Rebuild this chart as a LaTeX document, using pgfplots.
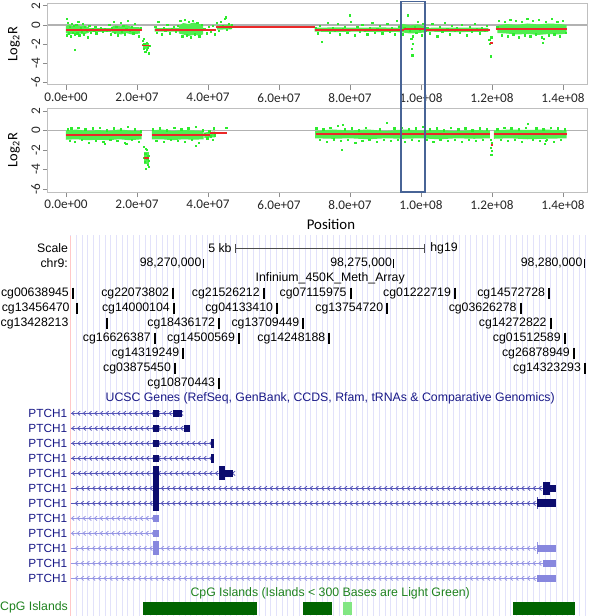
\documentclass[border=0pt]{standalone}
\usepackage{pgfplots}
\pgfplotsset{compat=1.18}
\usepackage{fontspec}
\setmainfont{Liberation Sans}
\newfontfamily\carl{Carlito}
\usetikzlibrary{decorations.markings}

\definecolor{ptgreen}{RGB}{45,235,45}
\definecolor{bandgreen}{RGB}{80,238,80}
\definecolor{segred}{RGB}{235,40,40}
\definecolor{rectblue}{RGB}{72,100,150}
\definecolor{navytext}{RGB}{25,25,135}
\definecolor{exondark}{RGB}{12,12,110}
\definecolor{linemid}{RGB}{85,85,185}
\definecolor{exonlight}{RGB}{135,135,222}
\definecolor{linelight}{RGB}{150,150,228}
\definecolor{cpgtext}{RGB}{30,130,30}
\definecolor{cpgdark}{RGB}{0,100,0}
\definecolor{cpglight}{RGB}{130,230,130}
\definecolor{gridlav}{RGB}{226,226,250}
\definecolor{pinkline}{RGB}{255,200,200}

\tikzset{
  bt/.style={font=\fontsize{6.15}{7}\selectfont, inner sep=0pt},
  chev/.style={postaction={decorate}, decoration={markings,
    mark=between positions 0.01 and 1 step 2.86pt with {\draw[line width=0.4pt] (1.3pt,1.1pt) -- (0pt,0pt) -- (1.3pt,-1.1pt);}}}
}

\pgfplotsset{
  cnbase/.style={
    scale only axis, width=269.5pt,
    xmin=-5.07, xmax=146.76, ymin=-6.3, ymax=2.3,
  },
  cnplot/.style={
    cnbase,
    clip marker paths=true,
    axis line style={draw=black!25, line width=0.5pt},
    tick align=outside, tick pos=left, major tick length=2.5pt,
    tick style={black!45, line width=0.4pt},
    xtick={0,20,40,60,80,100,120,140},
    xticklabels={0.0e+00,2.0e+07,4.0e+07,6.0e+07,8.0e+07,1.0e+08,1.2e+08,1.4e+08},
    ytick={-6,-4,-2,0,2}, yticklabels={-6,-4,-2,0,2},
    tick label style={font=\carl\fontsize{6.6}{7.5}\selectfont, black!85},
    yticklabel style={rotate=90, anchor=south, inner sep=1.2pt},
    xticklabel style={inner sep=1.5pt},
    ylabel={Log\textsubscript{2}R},
    ylabel style={font=\carl\fontsize{7.2}{8}\selectfont, at={(axis description cs:-0.063,0.5)}, anchor=center},
  },
  dots/.style={only marks, mark=square*, mark size=0.32pt, color=ptgreen},
  band/.style={fill=bandgreen, draw=none},
  seg/.style={segred, line width=0.9pt},
}

\newcommand{\probe}[3]{\addplot[black, line width=1.1pt] coordinates {(#1,#2) (#1,#3)};}
\newcommand{\exon}[5]{\addplot[fill=#5, draw=none] coordinates {(#1,#3) (#2,#3) (#2,#4) (#1,#4)};}
\newcommand{\gline}[4]{\addplot[#4, line width=0.5pt, chev] coordinates {(#1,#3) (#2,#3)};}

\begin{document}
\begin{tikzpicture}
\path[use as bounding box] (0pt,0pt) rectangle (300pt,-308pt);

% ---------- tumour 1 ----------
\begin{axis}[cnplot, at={(24pt,-1.5pt)}, anchor=north west, height=41pt]
\addplot[black!30, line width=0.7pt] coordinates {(-5.07,0) (146.76,0)};
% dense clouds
\addplot[band] coordinates {(0,-0.1)(1,0.05)(2,-0.15)(3,0.05)(4,-0.1)(5,-0.05)(6.5,-0.25)(6.5,-0.8)(5,-1.0)(4,-0.9)(3,-1.05)(2,-0.9)(1,-1.0)(0,-0.85)};
\addplot[band] coordinates {(6.5,-0.35)(12.8,-0.35)(12.8,-0.7)(6.5,-0.7)};
\addplot[band] coordinates {(12.8,-0.2)(14,-0.05)(15.5,-0.15)(17,0.0)(18.5,-0.2)(20.8,-0.25)(20.8,-0.9)(18.5,-1.0)(17,-0.85)(15.5,-1.0)(14,-0.9)(12.8,-0.8)};
\addplot[band] coordinates {(21.7,-1.9)(23.5,-1.9)(23.5,-2.5)(21.7,-2.5)};
\addplot[band] coordinates {(25,-0.35)(31.8,-0.3)(31.8,-0.7)(25,-0.7)};
\addplot[band] coordinates {(31.8,-0.1)(33,0.2)(34.5,0.1)(36,0.25)(37.5,0.1)(38.6,0.0)(38.6,-1.0)(37.5,-1.1)(36,-1.05)(34.5,-1.15)(33,-1.0)(31.8,-0.9)};
\addplot[band] coordinates {(42.5,-0.05)(46.8,0.05)(46.8,-0.45)(42.5,-0.5)};
\addplot[band] coordinates {(70,-0.3)(76,-0.25)(82,-0.3)(88,-0.25)(93.5,-0.3)(93.5,-0.72)(88,-0.75)(82,-0.7)(76,-0.75)(70,-0.7)};
\addplot[band] coordinates {(93.5,-0.1)(95,0.1)(97,-0.05)(99,0.05)(101,-0.15)(101,-0.8)(99,-0.85)(97,-0.9)(95,-0.8)(93.5,-0.75)};
\addplot[band] coordinates {(101,-0.3)(110,-0.28)(119,-0.3)(119,-0.72)(110,-0.75)(101,-0.7)};
\addplot[band] coordinates {(121.5,-0.1)(124,0.1)(127,0.0)(130,0.15)(133,0.05)(136,0.15)(139,0.1)(141,0.0)(141,-0.9)(139,-1.0)(136,-0.95)(133,-1.05)(130,-0.95)(127,-1.0)(124,-0.9)(121.5,-0.85)};
% single probes
\addplot[dots] table {
x y
0.2 0.6
0.3 -1.1
0.5 0.2
0.8 -0.9
1.1 -0.2
1.4 -1.2
1.7 0.1
2.0 -0.8
2.3 -0.1
2.5 -2.6
2.6 -1.0
2.9 0.0
3.2 -0.9
3.5 0.3
3.8 -1.1
4.1 -0.3
4.4 -0.7
4.7 0.1
5.0 -1.0
5.4 -0.2
5.8 -0.6
6.2 -1.3
6.6 -0.1
7.0 -0.8
7.5 -0.4
8.0 -0.6
8.3 -0.2
8.6 -0.9
9.2 -0.5
9.8 -0.3
10.4 -0.7
11.0 -0.4
11.6 -0.6
12.2 0.0
12.6 -1.0
13.0 -0.3
13.4 0.3
13.8 -0.8
14.2 -0.2
14.6 -1.1
15.0 -0.5
15.4 0.2
15.8 -0.7
16.2 -0.1
16.6 -1.0
17.0 -0.4
17.5 0.4
18.0 -0.6
18.5 -0.2
19.0 -0.9
19.5 0.1
20.0 -0.5
20.5 -1.2
21.0 -0.3
21.6 -1.7
21.8 -2.1
21.9 -2.5
22.0 -1.5
22.1 -2.0
22.4 -2.8
22.7 -1.9
22.8 -2.6
23.0 -2.4
23.3 -3.0
23.5 -2.2
25.2 -0.2
25.6 -0.8
26.0 0.3
26.5 -0.5
27.0 -1.0
27.5 -0.3
28.0 -0.6
28.6 0.0
29.2 -0.9
29.8 -0.4
30.4 -0.2
31.0 -0.7
31.5 -0.1
32.2 0.4
32.8 -1.2
33.4 0.5
34.0 -1.1
34.6 0.3
35.2 -1.3
35.8 0.4
36.4 -1.0
37.0 0.2
37.6 -1.2
38.2 0.0
39.0 -0.4
39.6 -0.9
40.2 -0.2
40.8 -0.7
41.4 -0.1
42.0 -1.0
42.5 0.2
43.0 -0.6
43.6 0.3
44.2 -0.1
44.8 0.6
45.0 0.8
45.3 -0.5
45.8 0.1
46.3 -0.3
46.8 0.0
70.3 -0.3
71.0 -0.9
71.6 -0.1
72.0 -1.8
73.0 -0.5
73.7 0.2
74.4 -0.8
75.1 -0.3
75.8 -0.6
76.5 0.1
77.2 -1.0
77.9 -0.4
78.6 -0.2
79.3 -0.8
80.0 1.0
80.3 0.3
80.7 -0.5
81.4 -1.1
82.1 -0.2
82.8 -0.7
83.5 0.0
84.2 -0.6
84.9 -1.0
85.6 -0.3
86.3 0.2
87.0 -0.8
87.7 -0.4
88.4 -0.1
89.1 -0.9
89.8 -0.5
90.5 0.1
91.2 -0.7
91.9 -0.3
92.6 -1.0
93.3 0.4
93.8 -0.2
94.3 0.6
94.8 -1.0
95.3 -0.3
96.3 1.0
96.8 -0.6
97.3 -1.5
97.5 -2.5
97.6 -3.2
97.7 -2.0
97.8 -1.2
98.2 -0.2
98.7 -0.8
99.2 0.3
99.7 -0.5
100.2 -1.1
100.7 0.1
101.2 -0.6
101.8 -0.3
102.5 -0.9
103.2 0.1
103.9 -0.5
104.6 -1.2
105.3 -0.2
106.0 -0.7
106.7 0.2
107.4 -0.4
108.1 -1.0
108.8 -0.1
109.5 -0.6
110.2 -0.3
110.9 -0.8
111.6 0.0
112.3 -0.5
113.0 -1.1
113.7 -0.2
114.4 -0.7
115.1 0.1
115.8 -0.4
116.5 -0.9
117.2 -0.3
117.9 -0.6
118.6 -0.1
119.3 -1.6
119.5 -2.0
119.6 -3.3
119.8 -1.3
121.5 -0.2
122.0 0.4
122.8 -1.1
123.6 0.3
124.4 -1.2
125.2 0.5
126.0 -1.0
126.8 0.4
127.6 -1.3
128.4 0.3
129.2 -1.1
130.0 0.6
130.8 -1.2
131.6 0.4
132.4 -1.0
133.2 0.5
134.0 -1.3
134.4 -1.9
134.6 -1.5
135.2 0.3
136.0 -1.1
136.8 0.6
137.6 -1.0
138.4 0.3
139.2 -1.2
140.0 0.4
140.8 -0.8
};
\coordinate (rectA) at (axis cs:94.4,2.46);
\end{axis}
% segment overlay for tumour 1
\begin{axis}[cnbase, hide axis, at={(24pt,-1.5pt)}, anchor=north west, height=41pt]
\addplot[seg] coordinates {(0,-0.5) (21.5,-0.5)};
\addplot[seg] coordinates {(21.4,-2.15) (23.6,-2.15)};
\addplot[seg] coordinates {(25.0,-0.5) (38.6,-0.5)};
\addplot[seg] coordinates {(38.6,-0.55) (42.2,-0.55)};
\addplot[seg] coordinates {(42.2,-0.25) (70.0,-0.25)};
\addplot[seg] coordinates {(70.0,-0.5) (95.3,-0.5)};
\addplot[seg] coordinates {(95.3,-0.4) (101.0,-0.4)};
\addplot[seg] coordinates {(101.0,-0.5) (119.3,-0.5)};
\addplot[seg] coordinates {(119.4,-1.9) (120.2,-1.9)};
\addplot[seg] coordinates {(121.0,-0.45) (141.0,-0.45)};
\end{axis}

% ---------- tumour 2 ----------
\begin{axis}[cnplot, at={(24pt,-54pt)}, anchor=north west, height=42pt,
  xlabel={Position},
  xlabel style={font=\carl\fontsize{7.4}{8}\selectfont, at={(axis description cs:0.525,-0.38)}, anchor=center}]
\addplot[black!30, line width=0.7pt] coordinates {(-5.07,0) (146.76,0)};
\addplot[band] coordinates {(0,0.0)(3,0.1)(6,-0.05)(9,0.05)(12,-0.05)(15,0.1)(18,0.0)(21.3,-0.05)(21.3,-0.9)(18,-1.0)(15,-0.9)(12,-1.0)(9,-0.95)(6,-1.0)(3,-0.9)(0,-0.95)};
\addplot[band] coordinates {(21.9,-2.2)(23.5,-2.2)(23.5,-3.4)(21.9,-3.4)};
\addplot[band] coordinates {(24.2,0.0)(27,0.1)(30,-0.05)(33,0.05)(36,0.0)(38.8,-0.05)(38.8,-0.9)(36,-0.95)(33,-0.9)(30,-1.0)(27,-0.9)(24.2,-0.9)};
\addplot[band] coordinates {(39,-0.2)(42,-0.1)(42,-0.7)(39,-0.75)};
\addplot[band] coordinates {(70.2,-0.05)(75,0.1)(80,0.0)(85,0.1)(90,-0.05)(95,0.1)(100,0.0)(105,0.05)(110,-0.05)(115,0.05)(119.4,0.0)(119.4,-0.8)(115,-0.85)(110,-0.8)(105,-0.9)(100,-0.8)(95,-0.85)(90,-0.8)(85,-0.9)(80,-0.8)(75,-0.85)(70.2,-0.8)};
\addplot[band] coordinates {(120.5,0.0)(125,0.1)(130,0.05)(135,0.1)(141,0.0)(141,-0.8)(135,-0.85)(130,-0.9)(125,-0.8)(120.5,-0.85)};
\addplot[dots] table {
x y
0.5 0.1
1.0 -1.1
1.5 0.2
2.5 -1.2
3.5 0.3
4.5 -1.0
5.5 0.1
6.5 -1.3
7.5 0.2
8.5 -1.1
9.5 0.3
10.5 -1.2
11.0 -1.4
11.5 0.0
12.5 -1.0
13.5 0.2
14.5 -1.1
15.5 0.1
16.5 -1.3
17.0 -1.4
17.5 0.4
18.5 -1.0
19.5 0.1
20.5 -1.2
21.0 -0.1
22.0 -1.7
22.1 -2.8
22.2 -3.2
22.4 -2.4
22.5 -1.9
22.6 -3.9
22.8 -2.0
22.9 -2.9
23.0 -3.5
23.2 -2.6
23.3 -3.7
23.4 -3.1
24.5 0.1
25.5 -1.1
26.5 0.2
27.5 -1.2
28.5 0.0
29.5 -1.0
30.5 0.3
31.5 -1.1
32.5 0.1
33.5 -1.2
34.5 0.2
35.5 -1.0
36.5 0.4
36.6 -1.6
37.5 -1.3
38.5 0.0
39.2 -0.4
39.8 -0.8
40.4 -0.1
40.9 -0.6
41.3 -1.0
41.7 0.2
42.0 -0.5
45.2 0.3
70.5 0.2
71.5 -1.0
72.5 0.1
73.5 -1.2
74.5 0.3
75.5 -0.9
76.5 0.5
77.5 -1.1
77.7 -2.0
78.0 0.6
78.5 0.1
79.5 -1.0
80.5 0.2
81.5 -1.3
82.5 0.0
83.5 -1.1
84.5 0.3
85.5 -1.0
87.5 -1.2
88.5 0.1
89.5 -1.0
90.4 0.8
91.5 -1.1
92.5 0.2
93.5 -1.0
94.5 0.3
95.5 -1.2
96.5 0.1
97.5 -1.0
98.5 0.2
99.5 -1.1
100.5 0.4
101.5 -1.0
102.5 0.1
103.5 -1.2
104.5 0.2
105.5 -1.0
106.5 0.0
107.5 -1.1
108.5 0.3
109.5 -1.0
110.5 0.1
111.5 -1.2
112.5 0.2
113.5 -1.0
114.5 0.0
115.5 -1.1
116.5 0.2
117.5 -1.0
118.5 0.1
119.6 -1.0
119.7 -1.8
119.8 -2.5
119.9 -1.3
120.0 -2.1
121.5 0.1
122.5 -1.0
123.5 0.3
124.5 -1.1
125.5 0.2
126.5 -1.0
127.5 0.1
128.5 -1.2
129.5 0.3
130.1 0.7
131.5 -1.0
132.5 0.2
133.5 -1.1
134.5 0.1
134.9 -1.4
135.1 -1.1
135.5 -1.0
136.5 0.3
137.5 -1.2
138.5 0.2
139.5 -1.0
140.5 0.1
};
\coordinate (rectB) at (axis cs:101.1,-6.3);
\end{axis}
% segment overlay for tumour 2
\begin{axis}[cnbase, hide axis, at={(24pt,-54pt)}, anchor=north west, height=42pt]
\addplot[seg] coordinates {(0,-0.45) (21.3,-0.45)};
\addplot[seg] coordinates {(21.9,-2.8) (23.4,-2.8)};
\addplot[seg] coordinates {(24.2,-0.45) (38.8,-0.45)};
\addplot[seg] coordinates {(38.8,-0.5) (40.5,-0.5)};
\addplot[seg] coordinates {(40.5,-0.28) (45.3,-0.28)};
\addplot[seg] coordinates {(70.3,-0.38) (119.4,-0.38)};
\addplot[seg] coordinates {(119.6,-1.5) (120.2,-1.5)};
\addplot[seg] coordinates {(120.6,-0.38) (141.0,-0.38)};
\end{axis}

\draw[rectblue, line width=0.7pt] (rectA) rectangle (rectB);

% ---------- genome browser ----------
\begin{axis}[at={(0pt,-117.5pt)}, anchor=north west, scale only axis,
  width=300pt, height=190.5pt,
  xmin=-5.336, xmax=10.412, ymin=-0.887, ymax=24.513, y dir=reverse,
  axis line style={draw=none}, major tick length=0pt,
  xtick={-3.48,-3.33,...,10.05}, xticklabels={}, ytick=\empty,
  xmajorgrids, major grid style={gridlav, line width=0.45pt},
  clip=false]
\addplot[pinkline, line width=0.5pt] coordinates {(-3.48,-0.85) (-3.48,24.51)};
% scale and position
\addplot[black!70, line width=0.45pt] coordinates {(0.832,0) (5.794,0)};
\addplot[black!70, line width=0.45pt] coordinates {(0.832,-0.3) (0.832,0.3)};
\addplot[black!70, line width=0.45pt] coordinates {(5.794,-0.3) (5.794,0.3)};
\addplot[black, line width=0.5pt] coordinates {(0,0.72) (0,1.28)};
\addplot[black, line width=0.5pt] coordinates {(5,0.72) (5,1.28)};
\addplot[black, line width=0.5pt] coordinates {(10,0.72) (10,1.28)};
\node[bt, anchor=east] at (axis cs:-3.543,0) {Scale};
\node[bt, anchor=east] at (axis cs:0.753,0) {5 kb};
\node[bt, anchor=west] at (axis cs:5.95,0) {hg19};
\node[bt, anchor=east] at (axis cs:-3.543,1) {chr9:};
\node[bt, anchor=east] at (axis cs:-0.04,1) {98,270,000};
\node[bt, anchor=east] at (axis cs:4.96,1) {98,275,000};
\node[bt, anchor=east] at (axis cs:9.96,1) {98,280,000};
\node[bt] at (axis cs:3.33,2) {Infinium\_450K\_Meth\_Array};
% 450K probes
\probe{-3.428}{2.62}{3.38}\probe{-0.787}{2.62}{3.38}\probe{1.593}{2.62}{3.38}
\probe{3.869}{2.62}{3.38}\probe{6.606}{2.62}{3.38}\probe{9.081}{2.62}{3.38}
\probe{-3.307}{3.62}{4.38}\probe{-0.769}{3.62}{4.38}\probe{1.942}{3.62}{4.38}
\probe{4.829}{3.62}{4.38}\probe{8.331}{3.62}{4.38}
\probe{-2.535}{4.62}{5.38}\probe{0.420}{4.62}{5.38}\probe{2.625}{4.62}{5.38}\probe{9.118}{4.62}{5.38}
\probe{-1.268}{5.62}{6.38}\probe{0.937}{5.62}{6.38}\probe{3.307}{5.62}{6.38}\probe{9.493}{5.62}{6.38}
\probe{-0.525}{6.62}{7.38}\probe{9.730}{6.62}{7.38}
\probe{-0.743}{7.62}{8.38}\probe{10.018}{7.62}{8.38}
\probe{0.420}{8.62}{9.38}
\node[bt, anchor=east] at (axis cs:-3.52,3) {cg00638945};
\node[bt, anchor=east] at (axis cs:-0.89,3) {cg22073802};
\node[bt, anchor=east] at (axis cs:1.49,3) {cg21526212};
\node[bt, anchor=east] at (axis cs:3.77,3) {cg07115975};
\node[bt, anchor=east] at (axis cs:6.51,3) {cg01222719};
\node[bt, anchor=east] at (axis cs:8.98,3) {cg14572728};
\node[bt, anchor=east] at (axis cs:-3.50,4) {cg13456470};
\node[bt, anchor=east] at (axis cs:-0.87,4) {cg14000104};
\node[bt, anchor=east] at (axis cs:1.84,4) {cg04133410};
\node[bt, anchor=east] at (axis cs:4.73,4) {cg13754720};
\node[bt, anchor=east] at (axis cs:8.23,4) {cg03626278};
\node[bt, anchor=east] at (axis cs:-3.53,5) {cg13428213};
\node[bt, anchor=east] at (axis cs:0.32,5) {cg18436172};
\node[bt, anchor=east] at (axis cs:2.53,5) {cg13709449};
\node[bt, anchor=east] at (axis cs:9.02,5) {cg14272822};
\node[bt, anchor=east] at (axis cs:-1.37,6) {cg16626387};
\node[bt, anchor=east] at (axis cs:0.84,6) {cg14500569};
\node[bt, anchor=east] at (axis cs:3.21,6) {cg14248188};
\node[bt, anchor=east] at (axis cs:9.39,6) {cg01512589};
\node[bt, anchor=east] at (axis cs:-0.62,7) {cg14319249};
\node[bt, anchor=east] at (axis cs:9.63,7) {cg26878949};
\node[bt, anchor=east] at (axis cs:-0.84,8) {cg03875450};
\node[bt, anchor=east] at (axis cs:9.92,8) {cg14323293};
\node[bt, anchor=east] at (axis cs:0.32,9) {cg10870443};
% UCSC genes
\node[bt, navytext] at (axis cs:3.33,10) {UCSC Genes (RefSeq, GenBank, CCDS, Rfam, tRNAs \& Comparative Genomics)};
\gline{-3.48}{-0.564}{11}{linemid}
\gline{-3.48}{-0.354}{12}{linemid}
\gline{-3.48}{0.281}{13}{linemid}
\gline{-3.48}{0.281}{14}{linemid}
\gline{-3.48}{0.787}{15}{linemid}
\gline{-3.48}{9.257}{16}{linemid}
\gline{-3.48}{8.759}{17}{linemid}
\gline{-3.48}{-1.328}{18}{linelight}
\gline{-3.48}{-1.328}{19}{linelight}
\gline{-3.48}{8.759}{20}{linelight}
\gline{-3.48}{8.908}{21}{linelight}
\gline{-3.48}{8.759}{22}{linelight}
\addplot[linemid, line width=0.5pt] coordinates {(8.759,16.6) (8.759,17.4)};
\addplot[linelight, line width=0.5pt] coordinates {(8.759,19.6) (8.759,20.4)};
\exon{-1.328}{-1.171}{10.77}{11.23}{exondark}
\exon{-0.803}{-0.564}{10.76}{11.24}{exondark}
\exon{-1.328}{-1.171}{11.77}{12.23}{exondark}
\exon{-0.507}{-0.354}{11.75}{12.25}{exondark}
\exon{-1.328}{-1.171}{12.77}{13.23}{exondark}
\exon{0.202}{0.281}{12.72}{13.28}{exondark}
\exon{-1.328}{-1.171}{13.77}{14.23}{exondark}
\exon{0.202}{0.281}{13.72}{14.28}{exondark}
\exon{-1.328}{-1.171}{14.5}{17.5}{exondark}
\exon{0.420}{0.570}{14.53}{15.47}{exondark}
\exon{0.570}{0.787}{14.75}{15.25}{exondark}
\exon{8.908}{9.100}{15.55}{16.45}{exondark}
\exon{9.100}{9.257}{15.75}{16.25}{exondark}
\exon{8.759}{9.257}{16.73}{17.27}{exondark}
\exon{-1.328}{-1.171}{17.77}{18.23}{exonlight}
\exon{-1.328}{-1.171}{18.77}{19.23}{exonlight}
\exon{-1.328}{-1.171}{19.53}{20.47}{exonlight}
\exon{8.759}{9.257}{19.75}{20.25}{exonlight}
\exon{8.908}{9.257}{20.75}{21.25}{exonlight}
\exon{8.759}{9.257}{21.75}{22.25}{exonlight}
\foreach \r in {11,...,22} {
  \edef\tmp{\noexpand\node[bt, navytext, font=\noexpand\fontsize{5.9}{7}\noexpand\selectfont, anchor=east] at (axis cs:-3.563,\r) {PTCH1};}
  \tmp
}
% CpG islands
\node[bt, cpgtext] at (axis cs:3.33,23) {CpG Islands (Islands < 300 Bases are Light Green)};
\node[bt, cpgtext, anchor=east] at (axis cs:-3.543,23.96) {CpG Islands};
\exon{-1.575}{1.417}{23.55}{24.45}{cpgdark}
\exon{2.609}{3.370}{23.55}{24.45}{cpgdark}
\exon{3.659}{3.895}{23.55}{24.45}{cpglight}
\exon{8.121}{9.756}{23.55}{24.45}{cpgdark}
\end{axis}
\end{tikzpicture}
\end{document}
